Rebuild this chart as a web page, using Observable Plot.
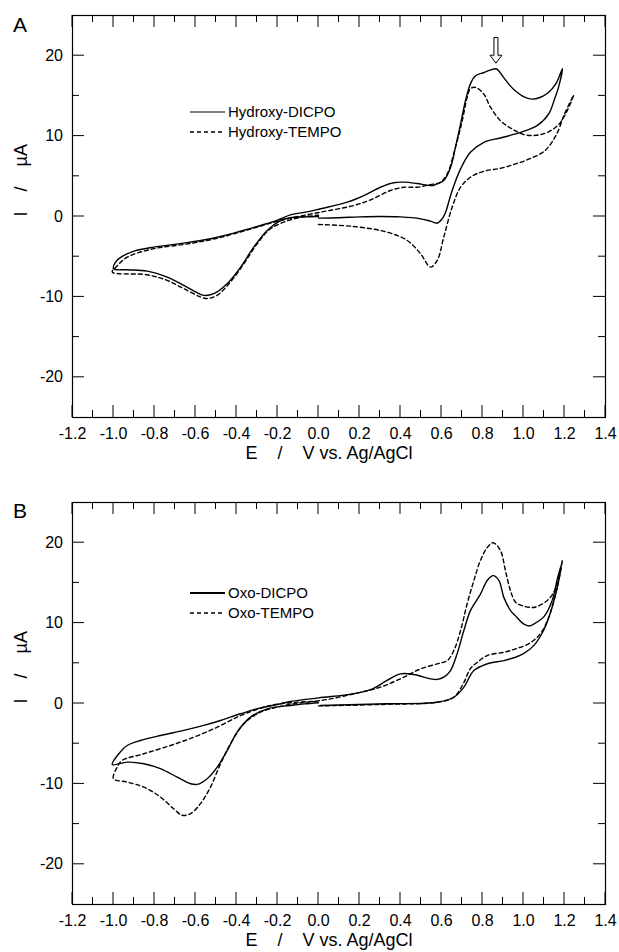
<!DOCTYPE html>
<html><head><meta charset="utf-8">
<script src="https://cdn.jsdelivr.net/npm/d3@7"></script>
<script src="https://cdn.jsdelivr.net/npm/@observablehq/plot@0.6"></script>
<style>
body{margin:0;background:#fff;}
#wrap{position:relative;width:619px;height:952px;overflow:hidden;background:#fff;}
.panel{position:absolute;left:0;}
</style></head><body><div id="wrap"><div id="pa" class="panel" style="top:0"></div><div id="pb" class="panel" style="top:470px"></div></div>
<script>
const FONT = "'Liberation Sans', Arial, Helvetica, sans-serif";
// axes
const xLim = [-1.2, 1.4];
const yLim = [-25, 25];
const xMajor = [-1.2,-1.0,-0.8,-0.6,-0.4,-0.2,0,0.2,0.4,0.6,0.8,1.0,1.2,1.4];
const xMajorLabels = ["-1.2","-1.0","-0.8","-0.6","-0.4","-0.2","0.0","0.2","0.4","0.6","0.8","1.0","1.2","1.4"];
const xMinor = [-1.1,-0.9,-0.7,-0.5,-0.3,-0.1,0.1,0.3,0.5,0.7,0.9,1.1,1.3];
const yMajor = [-20,-10,0,10,20];
const yMajorLabels = ["-20","-10","0","10","20"];
const yMinor = [-15,-5,5,15];
const xTitle = "E\u00a0\u00a0\u00a0\u00a0/\u00a0\u00a0\u00a0\u00a0V vs. Ag/AgCl";
const yTitle = "I\u00a0\u00a0\u00a0\u00a0/\u00a0\u00a0\u00a0\u00a0\u00b5A";

// Panel A : [E (V), I (uA)] in scan order
const hydroxyDICPO = [
 [0.00,0.00],[-0.07,-0.05],[-0.137,-0.15],[-0.185,-0.5],[-0.25,-1.74],[-0.316,-3.81],[-0.38,-6.3],[-0.446,-8.36],[-0.511,-9.6],[-0.56,-9.81],[-0.592,-9.48],[-0.657,-8.57],[-0.738,-7.54],[-0.836,-6.79],[-0.933,-6.63],[-1.0,-6.5],
 [-0.99,-5.67],[-0.958,-4.97],[-0.9,-4.3],[-0.803,-3.81],[-0.657,-3.31],[-0.527,-2.77],[-0.413,-2.07],[-0.283,-1.12],[-0.2,-0.45],[-0.137,0.2],[-0.05,0.6],[0.01,0.96],[0.14,1.78],[0.221,2.6],[0.302,3.64],[0.367,4.2],[0.416,4.27],[0.481,4.1],[0.53,3.9],[0.56,3.85],[0.579,4.06],[0.611,4.47],[0.644,6.1],[0.668,8.6],[0.693,11.5],[0.717,14.4],[0.741,16.5],[0.766,17.5],[0.807,17.9],[0.837,18.2],[0.868,18.35],[0.90,17.4],[0.93,16.4],[0.961,15.6],[1.0,14.9],[1.04,14.6],[1.08,14.8],[1.12,15.4],[1.16,16.6],[1.19,18.4],
 [1.17,16.0],[1.15,14.5],[1.124,12.8],[1.066,11.3],[0.99,10.5],[0.961,10.27],[0.888,9.77],[0.807,9.23],[0.741,7.99],[0.693,5.92],[0.652,3.23],[0.62,0.54],[0.603,-0.29],[0.579,-0.83],[0.546,-0.58],[0.498,-0.29],[0.4,-0.05],[0.3,0.0],[0.2,-0.05],[0.1,-0.15],[0.0,-0.2]
];
const hydroxyTEMPO = [
 [0.0,-1.0],[0.172,-1.24],[0.335,-1.95],[0.433,-2.98],[0.498,-4.64],[0.546,-6.29],[0.579,-5.47],[0.611,-2.57],[0.652,1.16],[0.693,3.64],[0.741,4.88],[0.807,5.63],[0.888,6.0],[0.961,6.54],[1.028,7.16],[1.105,8.2],[1.162,10.27],[1.2,12.75],[1.245,15.1],
 [1.21,13.0],[1.17,11.4],[1.12,10.5],[1.06,10.1],[1.0,10.2],[0.937,11.0],[0.888,11.9],[0.839,13.6],[0.807,15.2],[0.766,16.06],[0.741,15.9],[0.725,14.8],[0.701,11.9],[0.668,8.6],[0.628,5.3],[0.595,4.26],[0.546,3.97],[0.481,3.64],[0.416,3.64],[0.351,3.23],[0.254,2.07],[0.172,1.37],[0.01,0.54],[-0.153,-0.29],[-0.234,-0.83],[-0.283,-1.2],[-0.413,-2.15],[-0.527,-2.9],[-0.657,-3.48],[-0.803,-4.0],[-0.933,-5.05],[-0.98,-6.1],[-1.006,-6.9],
 [-0.836,-7.25],[-0.738,-7.95],[-0.657,-8.98],[-0.576,-10.0],[-0.543,-10.2],[-0.495,-9.81],[-0.43,-8.16],[-0.364,-5.88],[-0.299,-3.39],[-0.234,-1.53],[-0.137,-0.41],[-0.06,0.0],[0.0,0.15]
];
// Panel B
const oxoDICPO = [
 [0.0,0.1],[-0.07,-0.05],[-0.137,-0.25],[-0.25,-0.66],[-0.332,-1.7],[-0.397,-3.57],[-0.445,-5.84],[-0.494,-7.91],[-0.543,-9.35],[-0.592,-10.06],[-0.624,-9.98],[-0.689,-9.16],[-0.771,-8.11],[-0.852,-7.49],[-0.933,-7.29],[-1.006,-7.58],
 [-0.974,-6.25],[-0.933,-5.22],[-0.868,-4.6],[-0.771,-3.98],[-0.657,-3.35],[-0.56,-2.73],[-0.478,-2.11],[-0.38,-1.28],[-0.283,-0.54],[-0.201,-0.12],[-0.137,0.25],[0.0,0.7],[0.168,1.2],[0.264,1.83],[0.33,2.8],[0.4,3.69],[0.465,3.6],[0.546,3.07],[0.58,3.0],[0.611,3.27],[0.644,4.1],[0.676,6.17],[0.709,9.07],[0.741,11.55],[0.79,13.6],[0.823,15.3],[0.852,15.9],[0.88,15.3],[0.904,13.2],[0.937,11.55],[0.961,10.9],[1.0,9.9],[1.03,9.65],[1.07,10.2],[1.10,10.8],[1.14,12.8],[1.165,15.5],[1.185,17.3],
 [1.165,14.5],[1.14,12.0],[1.1,9.2],[1.05,7.2],[1.0,6.2],[0.961,5.75],[0.904,5.34],[0.823,4.93],[0.758,4.1],[0.709,2.03],[0.66,0.78],[0.579,0.16],[0.335,-0.04],[0.01,-0.25]
];
const oxoTEMPO = [
 [0.0,-0.3],[0.335,-0.1],[0.579,0.16],[0.66,0.78],[0.709,2.6],[0.74,4.3],[0.774,5.1],[0.823,5.96],[0.904,6.37],[0.961,6.79],[1.03,7.5],[1.08,8.6],[1.12,10.5],[1.15,13.0],[1.17,15.0],[1.19,17.9],
 [1.16,14.5],[1.12,12.9],[1.06,12.0],[1.03,11.96],[0.99,12.2],[0.961,12.6],[0.937,14.0],[0.912,16.5],[0.888,19.0],[0.852,20.0],[0.823,19.4],[0.79,17.8],[0.758,15.3],[0.725,12.4],[0.693,9.07],[0.66,6.58],[0.628,5.34],[0.579,4.93],[0.498,4.31],[0.416,3.27],[0.302,2.03],[0.172,1.2],[0.01,0.37],[-0.137,0.1],[-0.218,-0.16],[-0.316,-0.87],[-0.397,-1.7],[-0.494,-2.94],[-0.608,-4.19],[-0.722,-5.22],[-0.852,-6.25],[-0.958,-7.08],[-0.982,-7.91],[-1.0,-9.35],
 [-0.933,-9.77],[-0.852,-10.4],[-0.771,-11.64],[-0.706,-13.1],[-0.665,-13.9],[-0.624,-13.7],[-0.576,-12.46],[-0.527,-10.4],[-0.478,-7.49],[-0.429,-5.0],[-0.364,-2.52],[-0.283,-1.08],[-0.201,-0.46],[-0.137,-0.12],[-0.06,0.15],[0.0,0.3]
];
const panelANames = ["Hydroxy-DICPO", "Hydroxy-TEMPO"];
const panelBNames = ["Oxo-DICPO", "Oxo-TEMPO"];
// arrow marking the peak in panel A: [E, I top, I tip]
const arrowA = [0.868, 22.2, 19.0];

const fmt = (vals, labels) => d => { const i = vals.findIndex(v => Math.abs(v - d) < 1e-9); return i < 0 ? "" : labels[i]; };

// inward ticks on all four sides, positioned through the scales
function ticksMark(index, scales) {
  const {x, y} = scales;
  const g = d3.create("svg:g").attr("stroke", "#000").attr("stroke-width", 1);
  const y0 = y(yLim[0]), y1 = y(yLim[1]), x0 = x(xLim[0]), x1 = x(xLim[1]);
  const addX = (vals, len) => vals.forEach(v => {
    const px = x(v);
    g.append("line").attr("x1", px).attr("x2", px).attr("y1", y0).attr("y2", y0 - len);
    g.append("line").attr("x1", px).attr("x2", px).attr("y1", y1).attr("y2", y1 + len);
  });
  const addY = (vals, len) => vals.forEach(v => {
    const py = y(v);
    g.append("line").attr("x1", x0).attr("x2", x0 + len).attr("y1", py).attr("y2", py);
    g.append("line").attr("x1", x1).attr("x2", x1 - len).attr("y1", py).attr("y2", py);
  });
  addX(xMajor, 12); addX(xMinor, 7); addY(yMajor, 12); addY(yMinor, 7);
  return g.node();
}

function panel(cfg) {
  const solidStyle = {stroke: "#000", strokeWidth: 1.4, curve: "catmull-rom"};
  const dashStyle = {stroke: "#000", strokeWidth: 1.4, curve: "catmull-rom", strokeDasharray: "4,3"};
  const marks = [
    Plot.axisX({anchor: "bottom", ticks: xMajor, tickSize: 0, tickPadding: 10, fontSize: 16, tickFormat: fmt(xMajor, xMajorLabels), label: null}),
    Plot.axisY({anchor: "left", ticks: yMajor, tickSize: 0, tickPadding: 9.5, fontSize: 16, tickFormat: fmt(yMajor, yMajorLabels), label: null}),
    ticksMark,
    Plot.frame({stroke: "#000", strokeWidth: 1.2}),
    Plot.line(cfg.solid, {x: d => d[0], y: d => d[1], ...solidStyle}),
    Plot.line(cfg.dashed, {x: d => d[0], y: d => d[1], ...dashStyle}),
    Plot.text([xTitle], {text: d => d, frameAnchor: "bottom", dy: 41, dx: -10, fontSize: 18}),
    Plot.text([yTitle], {text: d => d, frameAnchor: "left", dx: -51, rotate: -90, fontSize: 18}),
    (index, scales) => {
      const g = d3.create("svg:g").attr("font-family", FONT).attr("fill", "#000").attr("text-anchor", "start");
      g.append("text").attr("x", 13).attr("y", cfg.letterY).attr("font-size", 21).text(cfg.letter);
      cfg.names.forEach((name, k) => {
        const ly = cfg.legendY[k];
        g.append("line").attr("x1", 190).attr("x2", 225).attr("y1", ly).attr("y2", ly)
          .attr("stroke", "#000").attr("stroke-width", k === 0 ? cfg.legendW : 1.4)
          .attr("stroke-dasharray", k === 1 ? "4,3" : null);
        g.append("text").attr("x", 228).attr("y", ly).attr("dy", "0.35em").attr("font-size", 15).text(name);
      });
      if (cfg.arrow) {
        const cx = scales.x(cfg.arrow[0]), yt = scales.y(cfg.arrow[1]), yp = scales.y(cfg.arrow[2]);
        const h = 8;
        g.append("path")
          .attr("d", `M${cx-2},${yt}L${cx+2},${yt}L${cx+2},${yp-h}L${cx+6},${yp-h}L${cx},${yp}L${cx-6},${yp-h}L${cx-2},${yp-h}Z`)
          .attr("fill", "#fff").attr("stroke", "#000").attr("stroke-width", 1);
      }
      return g.node();
    }
  ];
  return Plot.plot({
    width: 619, height: cfg.height,
    marginLeft: 72, marginRight: 14, marginTop: cfg.marginTop, marginBottom: cfg.marginBottom,
    x: {domain: xLim}, y: {domain: yLim},
    style: {fontFamily: FONT, fontSize: "16px", color: "#000", background: "#fff", overflow: "visible"},
    marks
  });
}

document.getElementById("pa").appendChild(panel({
  solid: hydroxyDICPO, dashed: hydroxyTEMPO, names: panelANames, letter: "A", letterY: 32,
  legendY: [112, 132], legendW: 1.2, arrow: arrowA, height: 470, marginTop: 15, marginBottom: 53
}));
document.getElementById("pb").appendChild(panel({
  solid: oxoDICPO, dashed: oxoTEMPO, names: panelBNames, letter: "B", letterY: 48,
  legendY: [123, 143], legendW: 2, arrow: null, height: 482, marginTop: 32, marginBottom: 48
}));
</script></body></html>
